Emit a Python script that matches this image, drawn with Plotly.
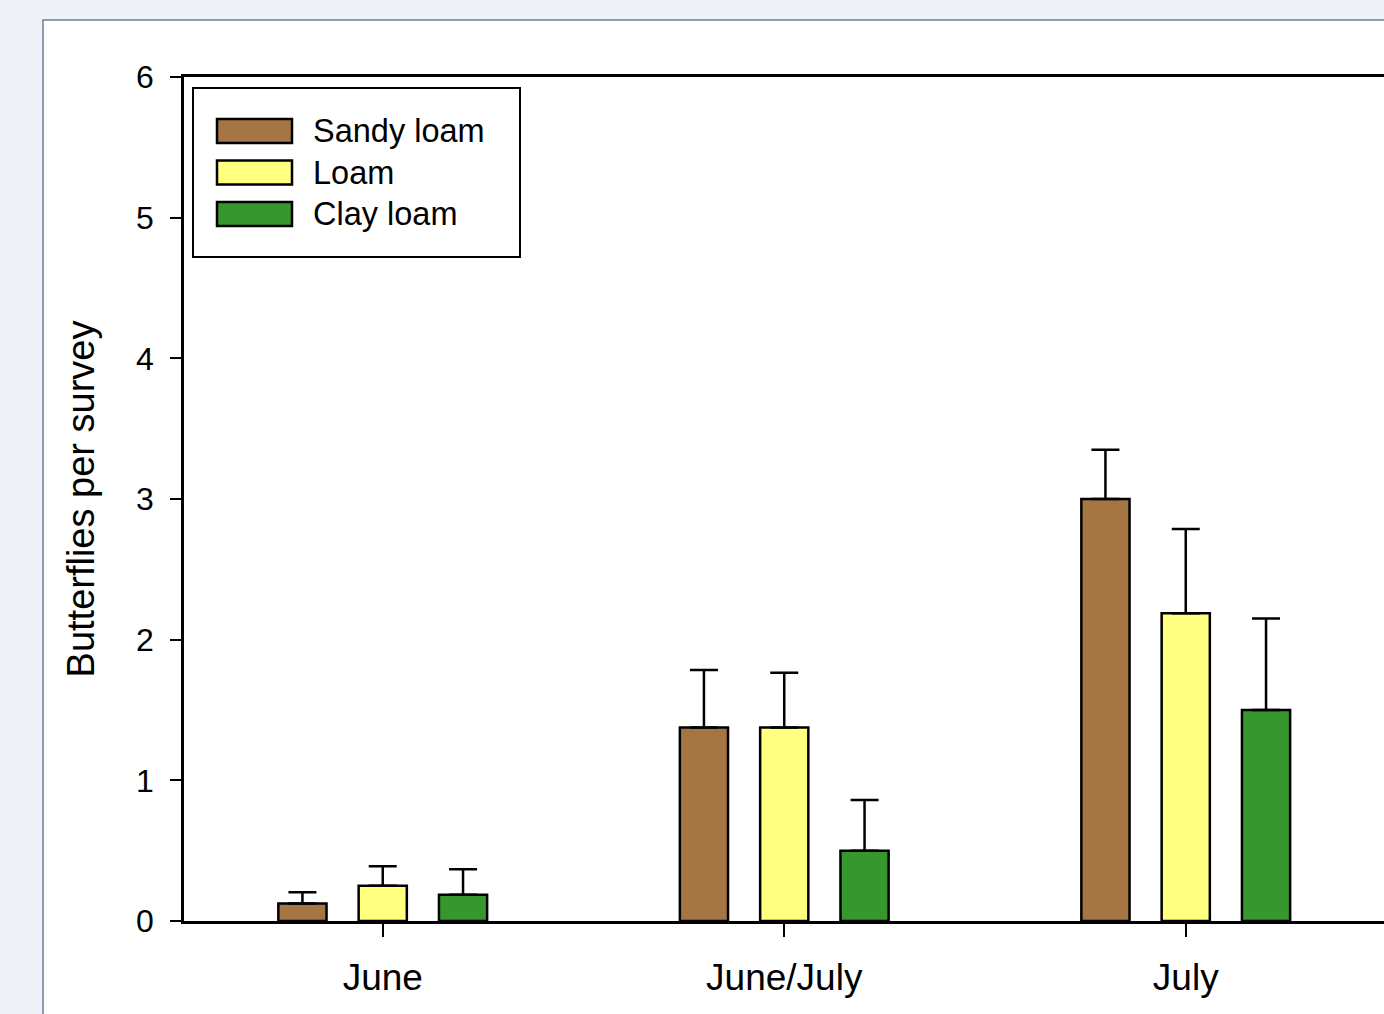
import plotly.graph_objects as go

# Survey periods and soil types
periods = ["June", "June/July", "July"]
soil_types = ["Sandy loam", "Loam", "Clay loam"]
soil_colors = ["#a57543", "#ffff80", "#36972f"]

# Mean butterflies per survey
sandy_loam = [0.125, 1.375, 3.0]
loam = [0.25, 1.375, 2.1875]
clay_loam = [0.1875, 0.5, 1.5]

# Standard errors (upper bars only)
sandy_loam_se = [0.08, 0.41, 0.35]
loam_se = [0.14, 0.39, 0.60]
clay_loam_se = [0.18, 0.36, 0.65]

y_ticks = [0, 1, 2, 3, 4, 5, 6]

means = [sandy_loam, loam, clay_loam]
errors = [sandy_loam_se, loam_se, clay_loam_se]

W, H = 1384, 1014
ML, MR, MT, MB = 184, 0, 77, 93
PW, PH = W - ML - MR, H - MT - MB
FONT = "Liberation Sans, Arial, sans-serif"
CAT_PX = 401.5          # pixels per category step
X_START = -0.495        # left edge of the category axis


def px_x(px):
    return (px - ML) / PW


def px_y(py):
    return (H - MB - py) / PH


fig = go.Figure()
for name, color, vals, se in zip(soil_types, soil_colors, means, errors):
    fig.add_trace(go.Bar(
        x=periods, y=vals, name=name,
        marker=dict(color=color, line=dict(color="black", width=2.5)),
        error_y=dict(type="data", symmetric=False, array=se,
                     arrayminus=[0] * len(se), color="black",
                     thickness=2.5, width=14),
        showlegend=False,
    ))

shapes = [
    # white panel behind the chart
    dict(type="rect", xref="paper", yref="paper", layer="below",
         x0=px_x(43), x1=px_x(W + 40), y0=px_y(H + 40), y1=px_y(20),
         fillcolor="white", line=dict(color="#6e7d98", width=1.5)),
    # legend frame
    dict(type="rect", xref="paper", yref="paper", layer="above",
         x0=px_x(193), x1=px_x(520), y0=px_y(257), y1=px_y(88),
         fillcolor="white", line=dict(color="black", width=2)),
]
annotations = []
for i, (name, color) in enumerate(zip(soil_types, soil_colors)):
    cy = 131 + 41.5 * i
    shapes.append(dict(type="rect", xref="paper", yref="paper", layer="above",
                       x0=px_x(217), x1=px_x(292), y0=px_y(cy + 12), y1=px_y(cy - 12),
                       fillcolor=color, line=dict(color="black", width=2.5)))
    annotations.append(dict(xref="paper", yref="paper", x=px_x(311), y=px_y(cy),
                            xanchor="left", yanchor="middle", showarrow=False,
                            text=name, font=dict(family=FONT, size=32.5, color="black")))

fig.update_layout(
    width=W, height=H,
    margin=dict(l=ML, r=MR, t=MT, b=MB, pad=0),
    paper_bgcolor="#eef1f7",
    plot_bgcolor="white",
    barmode="group", bargap=0.4, bargroupgap=0.4,
    shapes=shapes, annotations=annotations,
    font=dict(family=FONT, color="black"),
    xaxis=dict(
        range=[X_START, X_START + PW / CAT_PX],
        showline=True, linecolor="black", linewidth=2.5, mirror=True,
        ticks="outside", ticklen=13, tickwidth=2, tickcolor="black",
        tickfont=dict(size=37), ticklabelstandoff=9,
        showgrid=False, zeroline=False,
    ),
    yaxis=dict(
        range=[0, 6], tickvals=y_ticks,
        showline=True, linecolor="black", linewidth=2.5, mirror=False,
        ticks="outside", ticklen=11, tickwidth=2, tickcolor="black",
        tickfont=dict(size=32), ticklabelstandoff=10,
        showgrid=False, zeroline=False,
        title=dict(text="Butterflies per survey", font=dict(size=38), standoff=30),
    ),
)

fig.write_html("out.html")
